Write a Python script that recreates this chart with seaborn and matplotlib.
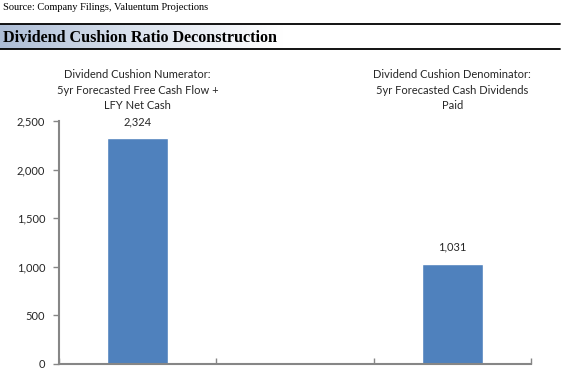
import numpy as np
import pandas as pd
import matplotlib
matplotlib.use("Agg")
import matplotlib.pyplot as plt
import seaborn as sns
from matplotlib.colors import LinearSegmentedColormap

categories = ["Dividend Cushion Numerator:\n5yr Forecasted Free Cash Flow +\nLFY Net Cash",
              "",
              "Dividend Cushion Denominator:\n5yr Forecasted Cash Dividends\nPaid"]
values = [2324, 0, 1031]
value_labels = ["2,324", "", "1,031"]
yticks = [0, 500, 1000, 1500, 2000, 2500]
ytick_labels = ["0", "500", "1,000", "1,500", "2,000", "2,500"]
source_text = "Source: Company Filings, Valuentum Projections"
title_text = "Dividend Cushion Ratio Deconstruction"

sns.set_theme(style="white")
plt.rcParams['font.family'] = ['Lato', 'DejaVu Sans']

W, H = 564, 372
fig = plt.figure(figsize=(W / 100, H / 100), dpi=100)
fig.patch.set_facecolor("white")

def fx(px):
    return px / W

def fy(py):
    return 1 - py / H

# header
fig.text(fx(3), fy(8), source_text, family="Liberation Serif", fontsize=7.5,
         ha="left", va="center", color="black")
hax = fig.add_axes([0, fy(49), 1, (49 - 24) / H])
cmap = LinearSegmentedColormap.from_list(
    "g", [(0.0, "#adbdd6"), (0.22, "#d8e0ec"), (0.5, "#ffffff"), (1.0, "#ffffff")])
grad = np.linspace(0, 1, 256)[None, :]
hax.imshow(grad, aspect="auto", cmap=cmap, extent=[0, 1, 0, 1])
hax.set_xlim(0, 1)
hax.set_ylim(0, 1)
hax.axis("off")
fig.add_artist(plt.Line2D([0, fx(560)], [fy(24), fy(24)], color="black", lw=1.3))
fig.add_artist(plt.Line2D([0, fx(560)], [fy(49), fy(49)], color="black", lw=1.3))
fig.text(fx(3), fy(38), title_text, family="Liberation Serif", fontweight="bold",
         fontsize=11.6, ha="left", va="center", color="black")

# chart
ax = fig.add_axes([fx(59), fy(363.7), fx(531 - 59), (363.7 - 121.3) / H])
df = pd.DataFrame({"cat": [str(i) for i in range(len(values))], "val": values})
sns.barplot(data=df, x="cat", y="val", color="#4f81bd", saturation=1, width=0.39, ax=ax)
ax.set_xlim(-0.5, len(values) - 0.5)
ax.set_ylim(0, 2500)
ax.set_xticks(np.arange(-0.5, len(values), 1.0))
ax.set_xticklabels([])
ax.set_yticks(yticks)
ax.set_yticklabels(ytick_labels, fontsize=8)
ax.set_xlabel("")
ax.set_ylabel("")
for s in ["top", "right"]:
    ax.spines[s].set_visible(False)
for s in ["left", "bottom"]:
    ax.spines[s].set_color("#868686")
    ax.spines[s].set_linewidth(1.5)
ax.tick_params(axis="both", which="both", length=4, width=1, color="#868686",
               direction="out", bottom=True, left=True, pad=6)
ax.tick_params(axis="x", direction="in", length=4)

for i, (v, lab) in enumerate(zip(values, value_labels)):
    if lab:
        ax.annotate(lab, (i, v), xytext=(0, 8), textcoords="offset points",
                    ha="center", va="bottom", fontsize=8)

trans = matplotlib.transforms.blended_transform_factory(ax.transData, fig.transFigure)
for i, c in enumerate(categories):
    if c:
        ax.text(i, fy(90), c, transform=trans, ha="center",
                va="center", fontsize=8, linespacing=1.45)

fig.savefig("out.png", dpi=100, facecolor="white")
